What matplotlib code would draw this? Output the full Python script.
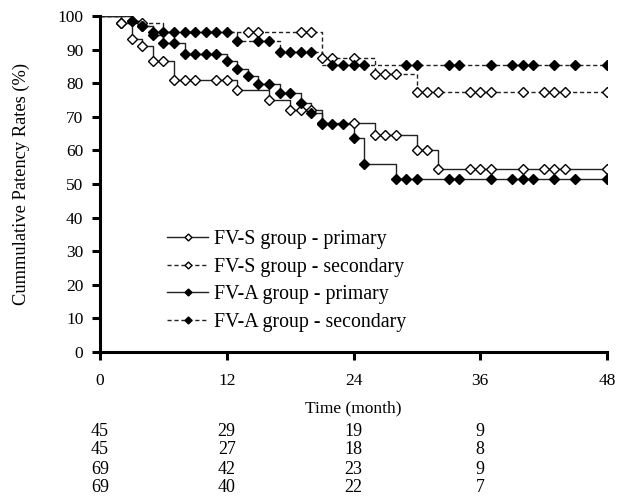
import numpy as np
import matplotlib
matplotlib.use("Agg")
import matplotlib.pyplot as plt
from matplotlib.lines import Line2D
import matplotlib.transforms as mtransforms

plt.rcParams['font.family'] = ['Liberation Serif', 'DejaVu Serif']

# step curves: times where the curve changes and value after the change (%)
fvs_pri_t = [0, 2, 3, 4, 5, 7, 13, 16, 18, 21, 26, 30, 32]
fvs_pri_v = [100, 97.8, 93.3, 91.1, 86.7, 81.0, 78.1, 74.9, 71.9, 68.3, 64.5, 60.0, 54.5]
fvs_pri_m = [2, 3, 4, 5, 6, 7, 8, 9, 11, 12, 13, 16, 18, 19, 20, 21, 24, 26, 27, 28,
             30, 31, 32, 35, 36, 37, 40, 42, 43, 44, 48]

fvs_sec_t = [0, 2, 6, 21, 26, 30]
fvs_sec_v = [100, 97.8, 95.3, 87.5, 82.8, 77.4]
fvs_sec_m = [2, 4, 14, 15, 19, 20, 21, 22, 24, 26, 27, 28, 30, 31, 32, 35, 36, 37,
             40, 42, 43, 44, 48]

fva_pri_t = [0, 3, 4, 5, 6, 8, 12, 13, 14, 15, 17, 19, 20, 21, 24, 25, 28]
fva_pri_v = [100, 98.55, 97.1, 94.2, 92.0, 88.8, 86.5, 84.3, 82.0, 79.9, 77.1, 74.2,
             71.2, 67.8, 63.7, 56.1, 51.6]
fva_pri_m = [3, 4, 5, 6, 7, 8, 9, 10, 11, 12, 13, 14, 15, 16, 17, 18, 19, 20, 21, 22,
             23, 24, 25, 28, 29, 30, 33, 34, 37, 39, 40, 41, 43, 45, 48]

fva_sec_t = [0, 3, 4, 5, 13, 17, 21]
fva_sec_v = [100, 98.55, 97.1, 95.3, 92.7, 89.4, 85.3]
fva_sec_m = [3, 4, 5, 6, 7, 8, 9, 10, 11, 12, 13, 15, 16, 17, 18, 19, 20, 22, 23, 24,
             25, 29, 30, 33, 34, 37, 39, 40, 41, 43, 45, 48]

labels = ["FV-S group - primary", "FV-S group - secondary",
          "FV-A group - primary", "FV-A group - secondary"]

# numbers at risk
risk_times = [0, 12, 24, 36]
risk_fvs_pri = [45, 29, 19, 9]
risk_fvs_sec = [45, 27, 18, 8]
risk_fva_pri = [69, 42, 23, 9]
risk_fva_sec = [69, 40, 22, 7]

t_end = 48
lc = "#222222"


def draw(ax, t, v, m, ls, face):
    t = np.array(t, dtype=float)
    v = np.array(v, dtype=float)
    tt = np.append(t, t_end)
    vv = np.append(v, v[-1])
    ax.step(tt, vv, where="post", color=lc, lw=1.0, linestyle=ls, zorder=2)
    m = np.array(m, dtype=float)
    mv = v[np.searchsorted(t, m, side="right") - 1]
    ax.plot(m, mv, linestyle="none", marker="D", markersize=5.5,
            markerfacecolor=face, markeredgecolor="black", markeredgewidth=1.0,
            zorder=3)


fig = plt.figure(figsize=(6.27, 5.04), dpi=100)
ax = fig.add_axes([100 / 627, 1 - 352 / 504, 507 / 627, (352 - 16) / 504])

dash = (0, (3, 2))
draw(ax, fvs_sec_t, fvs_sec_v, fvs_sec_m, dash, "white")
draw(ax, fva_sec_t, fva_sec_v, fva_sec_m, dash, "black")
draw(ax, fvs_pri_t, fvs_pri_v, fvs_pri_m, "-", "white")
draw(ax, fva_pri_t, fva_pri_v, fva_pri_m, "-", "black")

ax.set_xlim(0, 48)
ax.set_ylim(0, 100)
ax.set_xticks([0, 12, 24, 36, 48])
ax.set_yticks(np.arange(0, 101, 10))
ax.spines["top"].set_visible(False)
ax.spines["right"].set_visible(False)
ax.spines["left"].set_linewidth(2.2)
ax.spines["bottom"].set_linewidth(2.2)
ax.tick_params(direction="out", length=6, width=2.2, labelsize=12.5)
ax.tick_params(axis="x", pad=9)
ax.tick_params(axis="y", pad=6)
ax.set_ylabel("Cummulative Patency Rates (%)", fontsize=13.3, labelpad=20)
ax.set_xlabel("Time (month)", fontsize=12.5, labelpad=8)

handles = [
    Line2D([], [], color=lc, lw=1.0, ls="-", marker="D", markersize=3.5,
           markerfacecolor="white", markeredgecolor="black"),
    Line2D([], [], color=lc, lw=1.0, ls=dash, marker="D", markersize=3.5,
           markerfacecolor="white", markeredgecolor="black"),
    Line2D([], [], color=lc, lw=1.0, ls="-", marker="D", markersize=3.5,
           markerfacecolor="black", markeredgecolor="black"),
    Line2D([], [], color=lc, lw=1.0, ls=dash, marker="D", markersize=3.5,
           markerfacecolor="black", markeredgecolor="black"),
]
ax.legend(handles, labels, loc="upper left", bbox_to_anchor=(0.112, 0.393),
          frameon=False, fontsize=14.3, handlelength=2.1, handletextpad=0.3,
          labelspacing=0.44, borderpad=0)

# numbers at risk table
trans = mtransforms.blended_transform_factory(ax.transData, fig.transFigure)
rows = [risk_fvs_pri, risk_fvs_sec, risk_fva_pri, risk_fva_sec]
row_px = [431, 450, 469, 488]
for row, py in zip(rows, row_px):
    for t, n in zip(risk_times, row):
        ax.text(t, 1 - py / 504, str(n), transform=trans, ha="center",
                va="center", fontsize=13, clip_on=False)

fig.savefig("out.png", dpi=100)
